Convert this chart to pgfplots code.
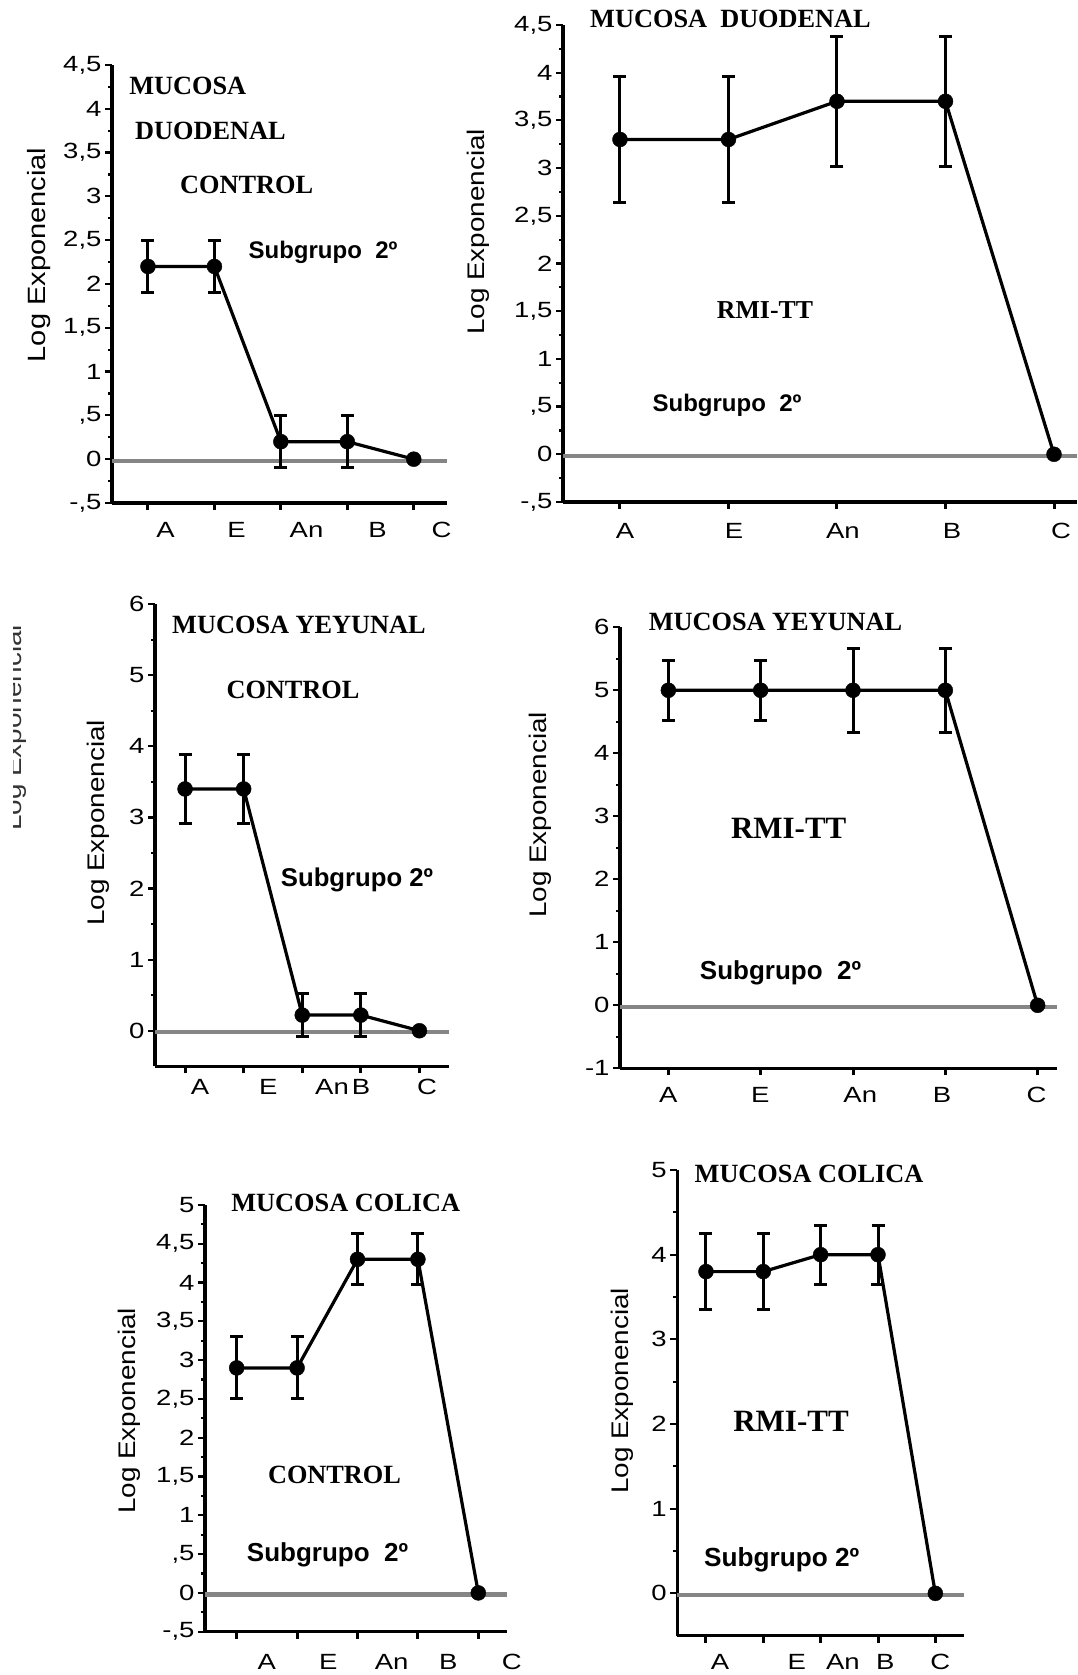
\documentclass[border=0pt]{standalone}
\usepackage{fontspec}
\setmainfont{Liberation Sans}
\newfontfamily\tickf[FakeStretch=1.25]{Liberation Sans}
\newfontfamily\labf[FakeStretch=1.16]{Liberation Sans}
\newfontfamily\titf{Liberation Serif}
\usepackage{pgfplots}
\pgfplotsset{compat=1.18}
\newcommand\fs[1]{\fontsize{#1}{#1}\selectfont}

\tikzset{
  tit/.style={font=\titf\bfseries\fs{26.3}, inner sep=0pt, anchor=center},
  sub/.style={font=\bfseries\fs{#1}, inner sep=0pt, anchor=center},
  ylab/.style={font=\labf\fs{#1}, rotate=90, inner sep=0pt, anchor=center},
  xl/.style={font=\tickf\fs{22}, inner sep=0pt, anchor=center},
}
\pgfplotsset{
  panel/.style={
    scale only axis, anchor=south west,
    axis x line=bottom, axis y line=left,
    axis line style={line width=3.3pt, -},
    every outer x axis line/.append style={line width=3.3pt, -},
    every outer y axis line/.append style={line width=3.3pt, -},
    tick align=outside,
    xtick={1,2,3,4,5}, xticklabels={},
    major tick length=7pt, minor tick length=4pt,
    every tick/.append style={line width=2.2pt, black},
    xtick style={line width=3pt},
    ytick style={line width=2.2pt},
    minor y tick num=1,
    yticklabel style={font=\tickf\fs{22}},
    clip=false,
  },
  zero/.style={draw=black!48, line width=4.2pt, forget plot, yshift=-1.5pt},
  dat/.style={black, line width=3.2pt, mark=*, mark size=7.5pt,
    mark options={solid, fill=black, draw=black, line width=0.4pt},
    error bars/.cd, y dir=both, y explicit,
    error bar style={line width=3pt, black},
    error mark=-, error mark options={rotate=90, line width=3pt, mark size=6.5pt, black}},
}

\begin{document}
\begin{tikzpicture}[x=1pt,y=1pt]
\useasboundingbox (0,0) rectangle (1077,1675);

% ---------- Panel 1: Duodenal control ----------
\begin{axis}[panel, at={(112pt,1172pt)}, width=335pt, height=438pt,
  xmin=0.459, xmax=5.5, ymin=-0.5, ymax=4.5,
  ytick={-0.5,0,0.5,1,1.5,2,2.5,3,3.5,4,4.5},
  yticklabels={{-,5},0,{,5},1,{1,5},2,{2,5},3,{3,5},4,{4,5}}]
\addplot[zero] coordinates {(0.459,0) (5.5,0)};
\addplot[dat] table[x=x, y=y, y error=e] {
x y e
1 2.2 0.3
2 2.2 0.3
3 0.2 0.3
4 0.2 0.3
5 0 0
};
\node[xl, yshift=-27pt] at (axis cs:1.266,-0.5) {A};
\node[xl, yshift=-27pt] at (axis cs:2.334,-0.5) {E};
\node[xl, yshift=-27pt] at (axis cs:3.386,-0.5) {An};
\node[xl, yshift=-27pt] at (axis cs:4.454,-0.5) {B};
\node[xl, yshift=-27pt] at (axis cs:5.417,-0.5) {C};
\end{axis}

% ---------- Panel 2: Duodenal RMI-TT ----------
\begin{axis}[panel, at={(563pt,1173pt)}, width=514pt, height=477pt,
  xmin=0.475, xmax=5.212, ymin=-0.5, ymax=4.5,
  ytick={-0.5,0,0.5,1,1.5,2,2.5,3,3.5,4,4.5},
  yticklabels={{-,5},0,{,5},1,{1,5},2,{2,5},3,{3,5},4,{4,5}}]
\addplot[zero] coordinates {(0.475,0) (5.212,0)};
\addplot[dat] table[x=x, y=y, y error=e] {
x y e
1 3.3 0.66
2 3.3 0.66
3 3.7 0.68
4 3.7 0.68
5 0 0
};
\node[xl, yshift=-29pt] at (axis cs:1.046,-0.5) {A};
\node[xl, yshift=-29pt] at (axis cs:2.051,-0.5) {E};
\node[xl, yshift=-29pt] at (axis cs:3.055,-0.5) {An};
\node[xl, yshift=-29pt] at (axis cs:4.060,-0.5) {B};
\node[xl, yshift=-29pt] at (axis cs:5.065,-0.5) {C};
\end{axis}

% ---------- Panel 3: Yeyunal control ----------
\begin{axis}[panel, at={(155pt,608.7pt)}, width=294.3pt, height=462.2pt,
  xmin=0.487, xmax=5.51, ymin=-0.5, ymax=6,
  ytick={0,1,2,3,4,5,6}, yticklabels={0,1,2,3,4,5,6}]
\addplot[zero] coordinates {(0.487,0) (5.51,0)};
\addplot[dat] table[x=x, y=y, y error=e] {
x y e
1 3.4 0.48
2 3.4 0.48
3 0.22 0.3
4 0.22 0.3
5 0 0
};
\node[xl, yshift=-21pt] at (axis cs:1.256,-0.5) {A};
\node[xl, yshift=-21pt] at (axis cs:2.419,-0.5) {E};
\node[xl, yshift=-21pt] at (axis cs:3.508,-0.5) {An};
\node[xl, yshift=-21pt] at (axis cs:4.003,-0.5) {B};
\node[xl, yshift=-21pt] at (axis cs:5.132,-0.5) {C};
\end{axis}

% ---------- Panel 4: Yeyunal RMI-TT ----------
\begin{axis}[panel, at={(620pt,606.7pt)}, width=437pt, height=441pt,
  xmin=0.476, xmax=5.21, ymin=-1, ymax=6,
  ytick={-1,0,1,2,3,4,5,6}, yticklabels={-1,0,1,2,3,4,5,6}]
\addplot[zero] coordinates {(0.476,0) (5.21,0)};
\addplot[dat] table[x=x, y=y, y error=e] {
x y e
1 5 0.48
2 5 0.48
3 5 0.67
4 5 0.67
5 0 0
};
\node[xl, yshift=-27pt] at (axis cs:1.000,-1) {A};
\node[xl, yshift=-27pt] at (axis cs:1.995,-1) {E};
\node[xl, yshift=-27pt] at (axis cs:3.079,-1) {An};
\node[xl, yshift=-27pt] at (axis cs:3.965,-1) {B};
\node[xl, yshift=-27pt] at (axis cs:4.988,-1) {C};
\end{axis}

% ---------- Panel 5: Colica control ----------
\begin{axis}[panel, at={(205pt,43.3pt)}, width=302.3pt, height=426.7pt,
  xmin=0.475, xmax=5.48, ymin=-0.5, ymax=5,
  ytick={-0.5,0,0.5,1,1.5,2,2.5,3,3.5,4,4.5,5},
  yticklabels={{-,5},0,{,5},1,{1,5},2,{2,5},3,{3,5},4,{4,5},5}]
\addplot[zero] coordinates {(0.475,0) (5.48,0)};
\addplot[dat] table[x=x, y=y, y error=e] {
x y e
1 2.9 0.4
2 2.9 0.4
3 4.3 0.33
4 4.3 0.33
5 0 0
};
\node[xl, yshift=-30pt] at (axis cs:1.497,-0.5) {A};
\node[xl, yshift=-30pt] at (axis cs:2.517,-0.5) {E};
\node[xl, yshift=-30pt] at (axis cs:3.566,-0.5) {An};
\node[xl, yshift=-30pt] at (axis cs:4.503,-0.5) {B};
\node[xl, yshift=-30pt] at (axis cs:5.553,-0.5) {C};
\end{axis}

% ---------- Panel 6: Colica RMI-TT ----------
\begin{axis}[panel, at={(677.3pt,39.3pt)}, width=286.7pt, height=465.7pt,
  xmin=0.5, xmax=5.5, ymin=-0.5, ymax=5,
  ytick={0,1,2,3,4,5}, yticklabels={0,1,2,3,4,5}]
\addplot[zero] coordinates {(0.5,0) (5.5,0)};
\addplot[dat] table[x=x, y=y, y error=e] {
x y e
1 3.8 0.45
2 3.8 0.45
3 4.0 0.35
4 4.0 0.35
5 0 0
};
\node[xl, yshift=-26pt] at (axis cs:1.245,-0.5) {A};
\node[xl, yshift=-26pt] at (axis cs:2.584,-0.5) {E};
\node[xl, yshift=-26pt] at (axis cs:3.388,-0.5) {An};
\node[xl, yshift=-26pt] at (axis cs:4.127,-0.5) {B};
\node[xl, yshift=-26pt] at (axis cs:5.087,-0.5) {C};
\end{axis}

% ---------- Texts ----------
% panel 1
\node[tit] at (187.7,1589.3) {MUCOSA};
\node[tit] at (210.5,1544.3) {DUODENAL};
\node[tit] at (246.7,1490) {CONTROL};
\node[sub=24] at (323,1422.3) {Subgrupo~~2º};
\node[ylab=25] at (39,1420) {Log Exponencial};
% panel 2
\node[tit] at (730.5,1656) {MUCOSA~~DUODENAL};
\node[tit, font=\titf\bfseries\fs{25.8}] at (765,1365) {RMI-TT};
\node[sub=24] at (727,1270) {Subgrupo~~2º};
\node[ylab=24] at (478,1443) {Log Exponencial};
% panel 3
\node[tit] at (299,1050) {MUCOSA YEYUNAL};
\node[tit] at (293,985) {CONTROL};
\node[sub=25.7] at (357,795) {Subgrupo 2º};
\node[ylab=24] at (98,852) {Log Exponencial};
\begin{scope}
\clip (13,800) rectangle (40,1100);
\node[ylab=24, text=black!80] at (15,947) {Log Exponencial};
\end{scope}
% panel 4
\node[tit] at (775.5,1053) {MUCOSA YEYUNAL};
\node[tit, font=\titf\bfseries\fs{31}] at (788.7,846.7) {RMI-TT};
\node[sub=26] at (780.5,702.3) {Subgrupo~~2º};
\node[ylab=24] at (540,860) {Log Exponencial};
% panel 5
\node[tit] at (345.7,471.7) {MUCOSA COLICA};
\node[tit] at (334.5,200) {CONTROL};
\node[sub=26] at (327.5,120) {Subgrupo~~2º};
\node[ylab=24] at (129,264) {Log Exponencial};
% panel 6
\node[tit] at (809,501) {MUCOSA COLICA};
\node[tit, font=\titf\bfseries\fs{31}] at (791,253.3) {RMI-TT};
\node[sub=26.2] at (781.7,115) {Subgrupo 2º};
\node[ylab=24] at (622,284) {Log Exponencial};
\end{tikzpicture}
\end{document}
